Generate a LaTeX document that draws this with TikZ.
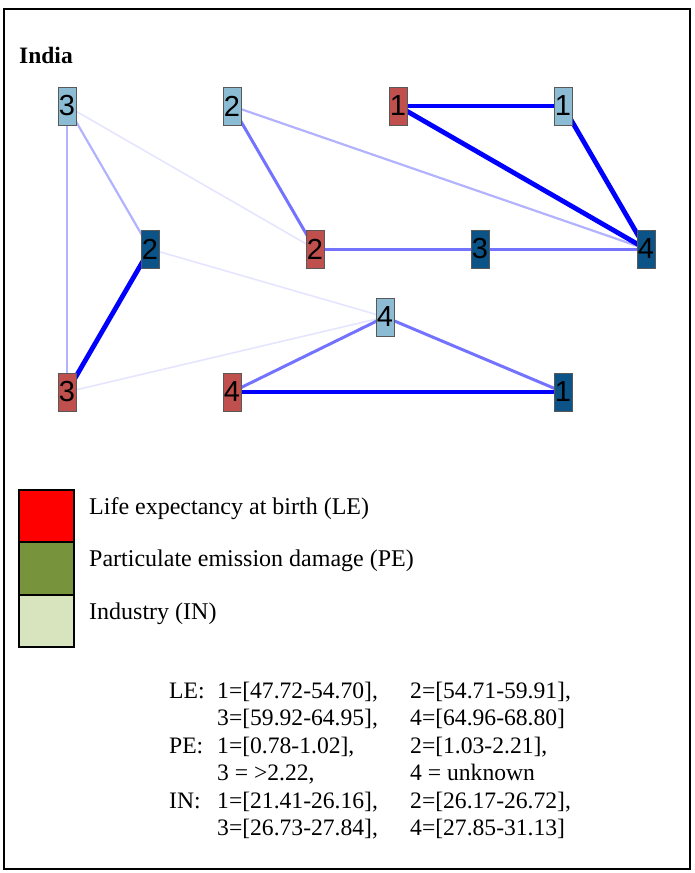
\documentclass[tikz,border=0pt]{standalone}
\usepackage{fontspec}
\setmainfont{Liberation Serif}
\newfontfamily\digitfont{Liberation Sans}
\definecolor{lered}{RGB}{192,80,77}
\definecolor{inblue}{RGB}{140,188,212}
\definecolor{peblue}{RGB}{12,84,135}
\definecolor{legred}{RGB}{255,0,0}
\definecolor{leggreen}{RGB}{119,147,60}
\definecolor{leglight}{RGB}{215,228,189}
\tikzset{
  vbox/.style={draw=black!65, line width=0.9pt, minimum width=18pt, minimum height=38pt, inner sep=0pt, font=\digitfont\fontsize{29}{29}\selectfont},
  lenode/.style={vbox, fill=lered},
  innode/.style={vbox, fill=inblue},
  penode/.style={vbox, fill=peblue},
  estrong/.style={draw=blue, line width=4.8pt},
  emed/.style={draw=blue, draw opacity=0.55, line width=3pt},
  elight/.style={draw=blue, draw opacity=0.3, line width=2.2pt},
  efaint/.style={draw=blue, draw opacity=0.1, line width=1.6pt},
  txt/.style={anchor=base west, inner sep=0pt, font=\fontsize{23.6}{27}\selectfont},
  legtxt/.style={anchor=base west, inner sep=0pt, font=\fontsize{24}{28}\selectfont},
  legbox/.style={draw=black, line width=2pt}
}
\begin{document}
\begin{tikzpicture}[x=1pt, y=-1pt]
\useasboundingbox (0,0) rectangle (694,873);
\draw[line width=2.8pt] (4,9) rectangle (690,869);
\node[txt, font=\bfseries\fontsize{23.5}{27}\selectfont] (title) at (19,63) {India};
% node positions
\coordinate (pIN3) at (67,106);
\coordinate (pIN2) at (232,106);
\coordinate (pLE1) at (398,106);
\coordinate (pIN1) at (563,106);
\coordinate (pPE2) at (150,249);
\coordinate (pLE2) at (315,249);
\coordinate (pPE3) at (480,249);
\coordinate (pPE4) at (646,249);
\coordinate (pIN4) at (385,317);
\coordinate (pLE3) at (67,392);
\coordinate (pLE4) at (232,392);
\coordinate (pPE1) at (563,392);
% edges
\draw[efaint] (pIN3) -- (pLE2);
\draw[efaint] (pPE2) -- (pIN4);
\draw[efaint] (pLE3) -- (pIN4);
\draw[elight] (pIN3) -- (pLE3);
\draw[elight] (pIN3) -- (pPE2);
\draw[elight] (pIN2) -- (pPE4);
\draw[emed] (pIN2) -- (pLE2);
\draw[emed] (pLE2) -- (pPE3);
\draw[emed] (pPE3) -- (pPE4);
\draw[emed] (pLE4) -- (pIN4);
\draw[emed] (pIN4) -- (pPE1);
\draw[estrong] (pLE1) -- (pIN1);
\draw[estrong] (pLE1) -- (pPE4);
\draw[estrong] (pIN1) -- (pPE4);
\draw[estrong] (pPE2) -- (pLE3);
\draw[estrong] (pLE4) -- (pPE1);
% nodes
\node[innode] (IN3) at (pIN3) {3};
\node[innode] (IN2) at (pIN2) {2};
\node[lenode] (LE1) at (pLE1) {1};
\node[innode] (IN1) at (pIN1) {1};
\node[penode] (PE2) at (pPE2) {2};
\node[lenode] (LE2) at (pLE2) {2};
\node[penode] (PE3) at (pPE3) {3};
\node[penode] (PE4) at (pPE4) {4};
\node[innode] (IN4) at (pIN4) {4};
\node[lenode] (LE3) at (pLE3) {3};
\node[lenode] (LE4) at (pLE4) {4};
\node[penode] (PE1) at (pPE1) {1};
% legend
\draw[legbox, fill=legred] (19,490) rectangle (74,542);
\draw[legbox, fill=leggreen] (19,542) rectangle (74,595);
\draw[legbox, fill=leglight] (19,595) rectangle (74,647);
\node[legtxt] (l1) at (89,514) {Life expectancy at birth (LE)};
\node[legtxt] (l2) at (89,566) {Particulate emission damage (PE)};
\node[legtxt] (l3) at (89,619) {Industry (IN)};
% ranges
\node[txt] (r1a) at (169,698) {LE:};
\node[txt] (r1b) at (217,698) {1=[47.72-54.70],};
\node[txt] (r1c) at (410,698) {2=[54.71-59.91],};
\node[txt] (r2b) at (217,725.5) {3=[59.92-64.95],};
\node[txt] (r2c) at (410,725.5) {4=[64.96-68.80]};
\node[txt] (r3a) at (169,753) {PE:};
\node[txt] (r3b) at (217,753) {1=[0.78-1.02],};
\node[txt] (r3c) at (410,753) {2=[1.03-2.21],};
\node[txt] (r4b) at (217,780.5) {3 = >2.22,};
\node[txt] (r4c) at (410,780.5) {4 = unknown};
\node[txt] (r5a) at (169,808) {IN:};
\node[txt] (r5b) at (217,808) {1=[21.41-26.16],};
\node[txt] (r5c) at (410,808) {2=[26.17-26.72],};
\node[txt] (r6b) at (217,835.5) {3=[26.73-27.84],};
\node[txt] (r6c) at (410,835.5) {4=[27.85-31.13]};
\end{tikzpicture}
\end{document}
